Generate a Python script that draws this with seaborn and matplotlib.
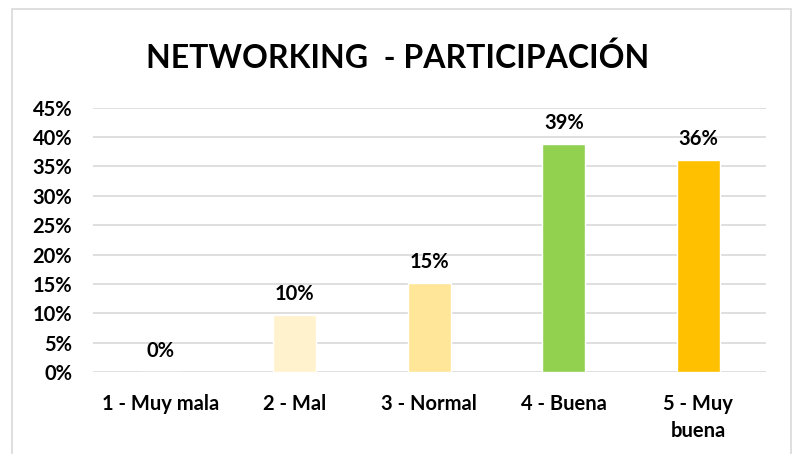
import matplotlib
matplotlib.use('Agg')
import matplotlib.pyplot as plt
import seaborn as sns
import pandas as pd
from matplotlib.patches import Rectangle
from matplotlib.ticker import PercentFormatter

# dados
categorias = ['1 - Muy mala', '2 - Mal', '3 - Normal', '4 - Buena', '5 - Muy\nbuena']
valores = [0.0, 0.097, 0.152, 0.388, 0.361]
cores = ['#FFF2CC', '#FFF2CC', '#FFE699', '#92D050', '#FFC000']
titulo = 'NETWORKING  - PARTICIPACIÓN'

df = pd.DataFrame({'categoria': categorias, 'valor': valores})

sns.set_style('white')
plt.rcParams['font.family'] = ['Lato', 'DejaVu Sans']
plt.rcParams['font.weight'] = 'bold'
plt.rcParams['text.color'] = 'black'

fig = plt.figure(figsize=(7.95, 4.54), dpi=100)
ax = fig.add_axes([0.117, 0.1806, 0.846, 0.5822])

sns.barplot(data=df, x='categoria', y='valor', hue='categoria', palette=cores,
            legend=False, width=0.32, ax=ax, saturation=1)

ax.set_ylim(0, 0.45)
ax.set_yticks([i * 0.05 for i in range(10)])
ax.yaxis.set_major_formatter(PercentFormatter(1.0, decimals=0))
ax.set_xlim(-0.5, 4.5)
ax.grid(axis='y', color='#D9D9D9', linewidth=1.2)
ax.set_axisbelow(True)
for s in ax.spines.values():
    s.set_visible(False)
ax.tick_params(axis='both', length=0, labelsize=14.5, colors='black')
ax.tick_params(axis='y', pad=15)
ax.tick_params(axis='x', pad=16)
for lbl in ax.get_xticklabels() + ax.get_yticklabels():
    lbl.set_fontweight('bold')
    lbl.set_linespacing(1.4)
ax.set_xlabel('')
ax.set_ylabel('')

# rótulos de dados
for i, v in enumerate(valores):
    ax.annotate(f'{v:.0%}', (i, v), xytext=(0, 8), textcoords='offset points',
                ha='center', va='bottom', fontsize=14.5, fontweight='bold')

fig.text(0.5, 0.873, titulo, ha='center', va='center', fontsize=23, fontweight='bold')

# moldura do gráfico
fig.patches.append(Rectangle((12 / 795, -0.1), 779 / 795, 1.1 - 9 / 454,
                             transform=fig.transFigure, fill=False,
                             edgecolor='#D9D9D9', linewidth=1.2))

fig.savefig('out.png', dpi=100)
